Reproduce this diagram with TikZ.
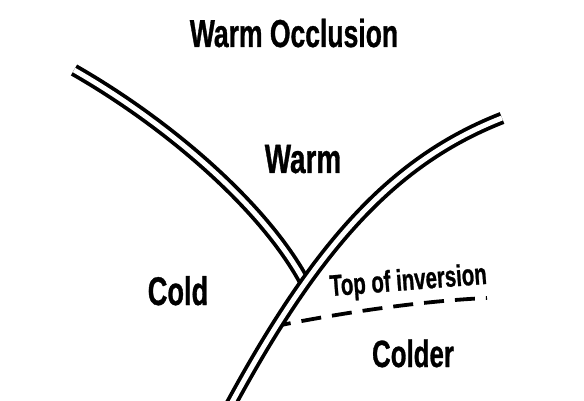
\documentclass[tikz,border=0pt]{standalone}
\usepackage{fontspec}
\newfontfamily\narrowfont[FakeStretch=0.68, FakeBold=0.8]{Liberation Sans Bold}
\usepackage{tikz}
\usetikzlibrary{positioning}

\begin{document}
\begin{tikzpicture}[
    x=1pt, y=-1pt,
    front/.style={draw=black, double=white, line width=3.8pt, double distance=5pt},
    inversion/.style={draw=black, line width=3.8pt, dash pattern=on 20pt off 11pt},
    tag/.style={inner sep=0pt, anchor=base, text=black},
]
\useasboundingbox (0, 0) rectangle (584, 401);

% End points of the fronts
\coordinate (coldtop) at (74, 70);
\coordinate (coldend) at (304, 281);
\coordinate (warmbot) at (231, 404);
\coordinate (warmtop) at (502, 118);
\coordinate (invleft) at (271, 327);
\coordinate (invright) at (487, 298);

% Top of inversion (under the front)
\draw[inversion] (invleft) .. controls (340, 313) and (420, 301) .. (invright);

% Cold front, then warm front on top of it
\draw[front] (coldtop) .. controls (165, 122) and (262, 204) .. (coldend);
\draw[front] (warmbot) .. controls (319, 242) and (395, 160) .. (warmtop);

% Labels
\node[tag, font=\narrowfont\fontsize{39}{41}\selectfont] (title) at (294, 47) {Warm Occlusion};
\node[tag, font=\narrowfont\fontsize{41}{43}\selectfont] (warm) at (303, 173) {Warm};
\node[tag, font=\narrowfont\fontsize{40}{42}\selectfont] (cold) at (178, 305) {Cold};
\node[tag, font=\narrowfont\fontsize{38}{40}\selectfont] (colder) at (413, 367) {Colder};
\node[tag, font=\narrowfont\fontsize{30}{32}\selectfont, rotate=4.5] (toplabel) at (409, 290) {Top of inversion};

\end{tikzpicture}
\end{document}
